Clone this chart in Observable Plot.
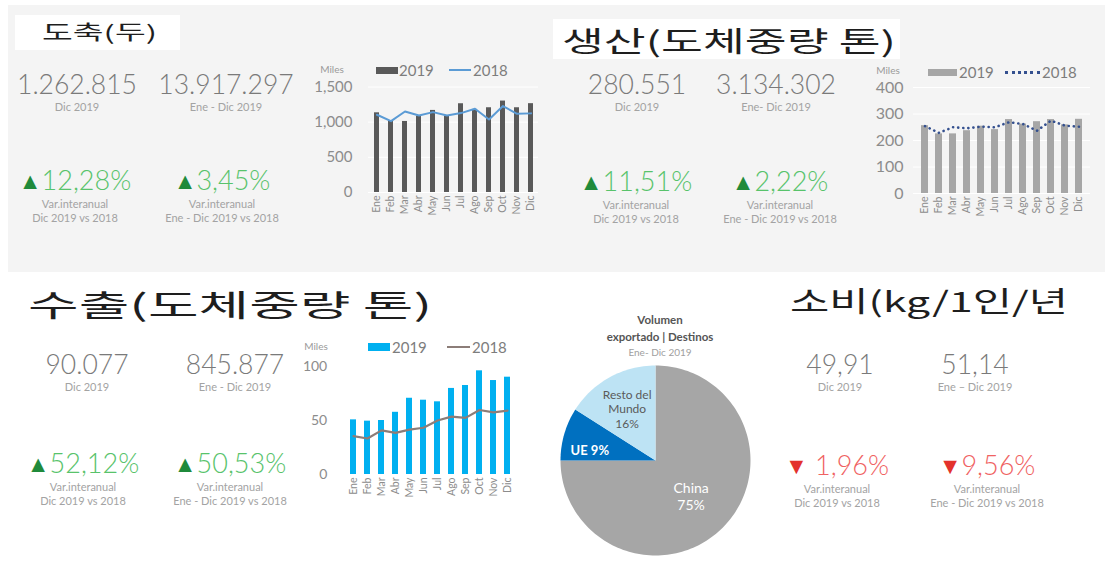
<!DOCTYPE html>
<html><head><meta charset="utf-8">
<script src="https://cdn.jsdelivr.net/npm/d3@7"></script>
<script src="https://cdn.jsdelivr.net/npm/@observablehq/plot@0.6"></script>
<style>
body{margin:0;width:1111px;height:562px;position:relative;background:#fff;overflow:hidden;font-family:Lato,"Open Sans",sans-serif;}
.abs{position:absolute;white-space:nowrap;line-height:1;}
.panel{position:absolute;left:8px;top:5px;width:1097px;height:267px;background:#f4f4f4;}
.box{position:absolute;background:#fff;}
</style></head><body>
<div class="panel"></div>
<div class="box" style="left:15px;top:15px;width:165px;height:35px"></div>
<div class="box" style="left:553px;top:19px;width:347px;height:40px"></div>
<script>
// ---------- data ----------
const months = ["Ene","Feb","Mar","Abr","May","Jun","Jul","Ago","Sep","Oct","Nov","Dic"];
const slaughter2019 = [1133,1010,1010,1086,1167,1086,1262,1181,1205,1300,1205,1263];
const slaughter2018 = [1105,1014,1152,1095,1143,1095,1129,1190,1038,1229,1119,1125];
const production2019 = [256,225,225,237,254,241,279,262,271,279,259,280];
const production2018 = [254,229,250,246,252,250,269,262,237,275,256,252];
const export2019 = [50.6,49.4,50,57.6,70.6,68.8,67.3,79.7,82.4,96,87,90.1];
const export2018 = [35.5,33.3,40.9,38.5,41.5,43.3,50,53.6,52.4,59.7,57.6,59.2];
const pieNames = ["China","UE","Resto del Mundo"];
const pieValues = [75,9,16];
const pieLabels = ["China\n75%","UE 9%","Resto del\nMundo\n16%"];
const yTicks1 = [0,500,1000,1500];
const yTicks2 = [0,100,200,300,400];
const yTicks3 = [0,50,100];

// ---------- helpers ----------
function txt(s, x, y, style = {}, anchor = "c") {
  const d = document.createElement("div");
  d.className = "abs";
  d.innerHTML = s;
  Object.assign(d.style, style);
  d.style.left = x + "px"; d.style.top = y + "px";
  d.style.transform = anchor === "c" ? "translate(-50%,-50%)" : "translate(0,-50%)";
  document.body.appendChild(d);
  return d;
}
function title(s, x, y, size, targetW) {
  const d = txt(s, x, y, {fontFamily:"'Noto Sans CJK KR',sans-serif", fontSize:size+"px", fontWeight:"400", color:"#1e1e1e", transformOrigin:"left center"}, "l");
  const w = d.getBoundingClientRect().width;
  d.style.transform = `translate(0,-50%) scaleX(${targetW / w})`;
}
const bigS = {fontSize:"26.5px", color:"#7a7a7a", fontWeight:"300", lineHeight:"22px"};
const subS = {fontSize:"11px", color:"#a3a3a3"};
function kpi(v, x, y, sub) { txt(v, x, y - 2, bigS); txt(sub, x, y + 20, subS); }
function pct(v, x, y, up, sub2) {
  const a = up ? `<span style="color:#1f8a3b;font-size:23px;vertical-align:1px">▲</span>` : `<span style="color:#e3322c;font-size:23px;vertical-align:1px">▼</span>`;
  const c = up ? "#58c36b" : "#f06262";
  txt(a + `<span style="color:${c}">${v}</span>`, x, y, {fontSize:"27px", fontWeight:"300", lineHeight:"24px"});
  txt("Var.interanual", x, y + 23, subS);
  txt(sub2, x, y + 37, subS);
}
function place(el, x, y) {
  const d = document.createElement("div");
  d.style.position = "absolute"; d.style.left = x + "px"; d.style.top = y + "px";
  d.appendChild(el); document.body.appendChild(d);
}
function swatchRect(x, y, w, h, c) { const d = document.createElement("div"); Object.assign(d.style,{position:"absolute",left:x+"px",top:y+"px",width:w+"px",height:h+"px",background:c}); document.body.appendChild(d); }
function swatchDots(x, y, w, c) { const d = document.createElement("div"); Object.assign(d.style,{position:"absolute",left:x+"px",top:y+"px",width:w+"px",height:0,borderTop:`3px dotted ${c}`}); document.body.appendChild(d); }
const legS = {fontSize:"15px", color:"#7d7d7d"};
const milesS = {fontSize:"10px", color:"#9a9a9a"};

function barLine(opts) {
  const rows = months.map((m, i) => ({m, a: opts.bars[i], b: opts.line[i]}));
  return Plot.plot({
    width: opts.width, height: opts.height,
    marginLeft: opts.ml, marginRight: opts.mr, marginTop: opts.mt, marginBottom: opts.mb,
    style: {background: "transparent", fontFamily: "Lato, sans-serif", color: "#8a8a8a", overflow: "visible"},
    x: {domain: months, paddingInner: opts.pi, paddingOuter: opts.pi / 2, label: null, axis: null},
    y: {domain: [0, opts.ticks[opts.ticks.length - 1]], label: null, axis: null},
    marks: [
      Plot.gridY(opts.ticks, {stroke: "#ffffff", strokeOpacity: 1}),
      Plot.barY(rows, {x: "m", y: "a", fill: opts.barColor}),
      Plot.line(rows, {x: "m", y: "b", stroke: opts.lineColor, strokeWidth: opts.lw, strokeDasharray: opts.dash, strokeLinecap: "round"}),
      Plot.axisY(opts.ticks, {tickSize: 0, tickPadding: opts.tp, fontSize: opts.fs, tickFormat: d3.format(","), fill: "#8c8c8c"}),
      Plot.axisX({tickSize: 0, tickPadding: 3, tickRotate: -90, fontSize: 10.5, fill: "#8c8c8c"})
    ]
  });
}

// ---------- section 1: 도축 ----------
title("도축(두)", 42, 32, 20, 115);
kpi("1.262.815", 77, 86, "Dic 2019");
kpi("13.917.297", 226, 86, "Ene - Dic 2019");
pct("12,28%", 75, 180, true, "Dic 2019 vs 2018");
pct("3,45%", 222, 180, true, "Ene - Dic 2019 vs 2018");
txt("Miles", 332, 69, milesS);
swatchRect(376, 67, 22, 7, "#595959"); txt("2019", 399, 70, legS, "l");
swatchRect(449, 69, 22, 2, "#5b9bd5"); txt("2018", 473, 70, legS, "l");
place(barLine({width:250, height:175, ml:68, mr:12, mt:26.5, mb:43, pi:0.65, bars:slaughter2019, line:slaughter2018, barColor:"#595959", lineColor:"#5b9bd5", lw:2, ticks:yTicks1, tp:16, fs:15}), 300, 60);

// ---------- section 2: 생산 ----------
title("생산(도체중량 톤)", 562, 40, 28, 334);
kpi("280.551", 637, 86, "Dic 2019");
kpi("3.134.302", 776, 86, "Ene- Dic 2019");
pct("11,51%", 636, 181, true, "Dic 2019 vs 2018");
pct("2,22%", 780, 181, true, "Ene - Dic 2019 vs 2018");
txt("Miles", 888, 70, milesS);
swatchRect(928, 69, 29, 7, "#a6a6a6"); txt("2019", 959, 72, legS, "l");
swatchDots(1005, 71, 35, "#34508f"); txt("2018", 1042, 72, legS, "l");
place(barLine({width:240, height:175, ml:53, mr:10, mt:27, mb:42, pi:0.5, bars:production2019, line:production2018, barColor:"#a6a6a6", lineColor:"#34508f", lw:2.6, dash:"0.1 5", ticks:yTicks2, tp:10, fs:16}), 860, 60);

// ---------- section 3: 수출 ----------
title("수출(도체중량 톤)", 28, 303, 30, 404);
kpi("90.077", 87, 366, "Dic 2019");
kpi("845.877", 235, 366, "Ene - Dic 2019");
pct("52,12%", 83, 463, true, "Dic 2019 vs 2018");
pct("50,53%", 230, 463, true, "Ene - Dic 2019 vs 2018");
txt("Miles", 316, 346, milesS);
swatchRect(368, 343, 22, 8, "#00b0f0"); txt("2019", 392, 347, legS, "l");
swatchRect(447, 346, 23, 2, "#8c7d78"); txt("2018", 472, 347, legS, "l");
place(barLine({width:225, height:180, ml:42.75, mr:8.25, mt:31, mb:41, pi:0.55, bars:export2019, line:export2018, barColor:"#00b0f0", lineColor:"#8c7d78", lw:2.2, ticks:yTicks3, tp:16, fs:14}), 300, 335);

// ---------- pie ----------
txt("Volumen", 660, 320, {fontSize:"11.5px", fontWeight:"700", color:"#555"});
txt("exportado | Destinos", 660, 337, {fontSize:"11.5px", fontWeight:"700", color:"#555"});
txt("Ene- Dic 2019", 660, 352, {fontSize:"10px", color:"#a0a0a0"});
const pieColors = ["#a6a6a6", "#0070c0", "#bde3f4"];
const labelR = [0.53, 0.72, 0.62];
const total = d3.sum(pieValues);
let acc = 0;
const sliceMarks = [], labelRows = [];
pieValues.forEach((v, i) => {
  const a0 = acc / total * 2 * Math.PI; acc += v; const a1 = acc / total * 2 * Math.PI;
  const n = Math.max(4, Math.ceil(v * 2));
  const pts = [[0, 0]];
  for (let k = 0; k <= n; k++) { const a = a0 + (a1 - a0) * k / n; pts.push([Math.sin(a), Math.cos(a)]); }
  pts.push([0, 0]);
  sliceMarks.push(Plot.line(pts, {x: d => d[0], y: d => d[1], fill: pieColors[i], stroke: "none"}));
  const am = (a0 + a1) / 2;
  labelRows.push({x: labelR[i] * Math.sin(am), y: labelR[i] * Math.cos(am) + (i === 1 ? -0.1 : 0), t: pieLabels[i], i});
});
const pie = Plot.plot({
  width: 200, height: 200, margin: 5,
  style: {background: "transparent", fontFamily: "Lato, sans-serif", overflow: "visible"},
  x: {domain: [-1, 1], axis: null}, y: {domain: [-1, 1], axis: null},
  marks: [
    ...sliceMarks,
    Plot.text(labelRows.filter(d => d.i === 0), {x: "x", y: "y", text: "t", fill: "#fff", fontSize: 14, lineHeight: 1.25}),
    Plot.text(labelRows.filter(d => d.i === 1), {x: "x", y: "y", text: "t", fill: "#fff", fontSize: 13, fontWeight: 700}),
    Plot.text(labelRows.filter(d => d.i === 2), {x: "x", y: "y", text: "t", fill: "#5a5a5a", fontSize: 12, lineHeight: 1.2})
  ]
});
place(pie, 555, 359.5);

// ---------- section 4: 소비 ----------
title("소비(kg/1인/년", 790, 300, 28, 278);
kpi("49,91", 840, 366, "Dic 2019");
kpi("51,14", 975, 366, "Ene – Dic 2019");
pct("&nbsp;1,96%", 837, 465, false, "Dic 2019 vs 2018");
pct("9,56%", 987, 465, false, "Ene - Dic 2019 vs 2018");
</script></body></html>
